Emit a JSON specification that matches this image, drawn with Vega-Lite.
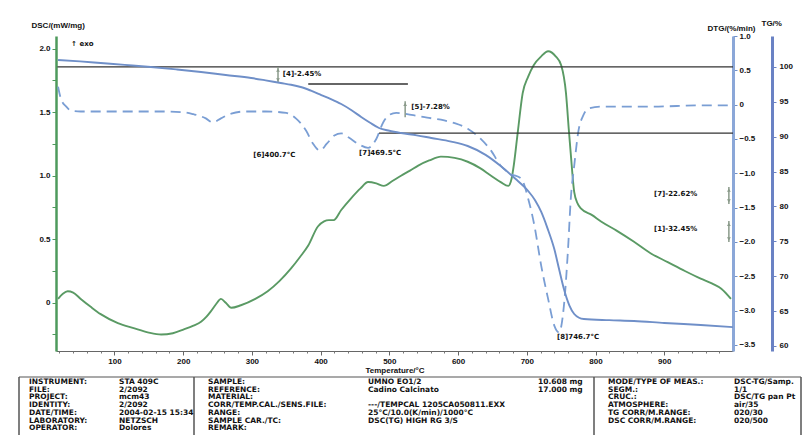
{
  "$schema": "https://vega.github.io/schema/vega-lite/v6.json",
  "padding": {"left": 18, "top": 19, "right": 0, "bottom": 0},
  "background": "white",
  "config": {
    "font": "Liberation Sans",
    "view": {"stroke": null},
    "axis": {"grid": false, "labelFont": "Liberation Sans", "labelFontSize": 8, "labelFontWeight": "bold", "labelColor": "#111", "titleFont": "Liberation Sans", "titleFontSize": 8, "titleFontWeight": "bold", "titleColor": "#111", "labelFlush": false, "labelOverlap": false}
  },
  "datasets": {
    "dsc": [{"T":18,"v":0.03},{"T":25,"v":0.07},{"T":32,"v":0.09},{"T":40,"v":0.08},{"T":51,"v":0.03},{"T":65,"v":-0.03},{"T":80,"v":-0.09},{"T":105,"v":-0.16},{"T":128,"v":-0.2},{"T":150,"v":-0.235},{"T":168,"v":-0.25},{"T":185,"v":-0.24},{"T":201,"v":-0.21},{"T":215,"v":-0.18},{"T":226,"v":-0.15},{"T":234,"v":-0.11},{"T":240,"v":-0.07},{"T":248,"v":-0.01},{"T":255,"v":0.03},{"T":262,"v":0.0},{"T":270,"v":-0.04},{"T":284,"v":-0.02},{"T":305,"v":0.03},{"T":323,"v":0.09},{"T":340,"v":0.17},{"T":357,"v":0.27},{"T":370,"v":0.36},{"T":382,"v":0.45},{"T":396,"v":0.6},{"T":405,"v":0.64},{"T":412,"v":0.65},{"T":419,"v":0.65},{"T":430,"v":0.73},{"T":444,"v":0.82},{"T":458,"v":0.9},{"T":469,"v":0.95},{"T":481,"v":0.94},{"T":492,"v":0.92},{"T":505,"v":0.96},{"T":517,"v":1.0},{"T":530,"v":1.04},{"T":542,"v":1.08},{"T":558,"v":1.12},{"T":575,"v":1.15},{"T":595,"v":1.14},{"T":614,"v":1.11},{"T":632,"v":1.06},{"T":648,"v":1.0},{"T":662,"v":0.95},{"T":673,"v":0.92},{"T":678,"v":0.98},{"T":681,"v":1.08},{"T":687,"v":1.35},{"T":694,"v":1.65},{"T":702,"v":1.78},{"T":710,"v":1.87},{"T":721,"v":1.94},{"T":731,"v":1.98},{"T":742,"v":1.94},{"T":750,"v":1.87},{"T":757,"v":1.65},{"T":761,"v":1.37},{"T":764,"v":1.17},{"T":769,"v":0.87},{"T":774,"v":0.78},{"T":779,"v":0.74},{"T":795,"v":0.69},{"T":808,"v":0.64},{"T":830,"v":0.57},{"T":856,"v":0.48},{"T":880,"v":0.39},{"T":905,"v":0.32},{"T":930,"v":0.25},{"T":953,"v":0.19},{"T":970,"v":0.15},{"T":983,"v":0.11},{"T":997,"v":0.03}],
    "dtg": [{"T":18,"v":0.26},{"T":22,"v":0.09},{"T":30,"v":-0.03},{"T":37,"v":-0.09},{"T":51,"v":-0.1},{"T":110,"v":-0.1},{"T":168,"v":-0.1},{"T":200,"v":-0.11},{"T":215,"v":-0.14},{"T":233,"v":-0.2},{"T":243,"v":-0.26},{"T":255,"v":-0.2},{"T":270,"v":-0.13},{"T":290,"v":-0.1},{"T":320,"v":-0.1},{"T":350,"v":-0.12},{"T":364,"v":-0.2},{"T":379,"v":-0.38},{"T":389,"v":-0.57},{"T":399,"v":-0.67},{"T":409,"v":-0.57},{"T":420,"v":-0.45},{"T":430,"v":-0.42},{"T":441,"v":-0.48},{"T":456,"v":-0.58},{"T":469,"v":-0.63},{"T":481,"v":-0.5},{"T":491,"v":-0.26},{"T":500,"v":-0.15},{"T":510,"v":-0.12},{"T":532,"v":-0.15},{"T":555,"v":-0.19},{"T":575,"v":-0.22},{"T":595,"v":-0.27},{"T":614,"v":-0.35},{"T":633,"v":-0.5},{"T":648,"v":-0.67},{"T":662,"v":-0.89},{"T":677,"v":-1.01},{"T":692,"v":-1.08},{"T":702,"v":-1.37},{"T":711,"v":-1.76},{"T":721,"v":-2.35},{"T":731,"v":-2.83},{"T":740,"v":-3.22},{"T":747,"v":-3.32},{"T":754,"v":-2.93},{"T":760,"v":-2.1},{"T":764,"v":-1.37},{"T":769,"v":-0.89},{"T":775,"v":-0.39},{"T":782,"v":-0.16},{"T":789,"v":-0.06},{"T":808,"v":-0.03},{"T":881,"v":-0.03},{"T":954,"v":-0.01},{"T":993,"v":-0.01}],
    "tg": [{"T":18,"v":101.0},{"T":50,"v":100.8},{"T":80,"v":100.57},{"T":115,"v":100.3},{"T":153,"v":100.0},{"T":190,"v":99.65},{"T":226,"v":99.28},{"T":262,"v":98.85},{"T":299,"v":98.42},{"T":320,"v":98.08},{"T":342,"v":97.7},{"T":357,"v":97.45},{"T":371,"v":97.13},{"T":386,"v":96.6},{"T":401,"v":95.98},{"T":415,"v":95.4},{"T":430,"v":94.69},{"T":445,"v":93.8},{"T":459,"v":92.83},{"T":472,"v":92.0},{"T":485,"v":91.25},{"T":500,"v":90.85},{"T":517,"v":90.53},{"T":540,"v":90.2},{"T":561,"v":89.82},{"T":590,"v":89.3},{"T":614,"v":88.67},{"T":640,"v":87.4},{"T":662,"v":85.8},{"T":683,"v":84.0},{"T":702,"v":82.22},{"T":712,"v":80.9},{"T":721,"v":79.21},{"T":730,"v":76.9},{"T":740,"v":73.9},{"T":747,"v":71.0},{"T":754,"v":68.17},{"T":762,"v":65.8},{"T":769,"v":64.58},{"T":776,"v":64.05},{"T":783,"v":63.87},{"T":820,"v":63.7},{"T":856,"v":63.58},{"T":900,"v":63.3},{"T":953,"v":63.0},{"T":1000,"v":62.7}],
    "tgRules": [{"T":17,"T2":1000,"v":100},{"T":382,"T2":527,"v":97.56},{"T":485,"T2":1000,"v":90.53}],
    "tgArrows": [{"T":338,"v":100,"v2":97.7},{"T":523,"v":95.1,"v2":92.8},{"T":994,"v":82.8,"v2":80.35},{"T":994,"v":77.9,"v2":74.9}],
    "tgHeads": [{"T":338,"v":99.55,"s":"up"},{"T":338,"v":98.15,"s":"down"},{"T":523,"v":94.65,"s":"up"},{"T":994,"v":82.35,"s":"up"},{"T":994,"v":80.8,"s":"down"},{"T":994,"v":77.45,"s":"up"},{"T":994,"v":75.35,"s":"down"}],
    "tgLabels": [{"T":345,"v":98.99,"t":"[4]-2.45%"},{"T":532,"v":94.26,"t":"[5]-7.28%"},{"T":885,"v":81.79,"t":"[7]-22.62%"},{"T":885,"v":76.77,"t":"[1]-32.45%"}],
    "dtgLabels": [{"T":302,"v":-0.74,"t":"[6]400.7°C"},{"T":456,"v":-0.71,"t":"[7]469.5°C"},{"T":744,"v":-3.38,"t":"[8]746.7°C"}],
    "dscLabels": [{"T":37,"v":2.04,"t":"↑ exo"}],
    "info": [
      {"r":1,"c":0,"t":"INSTRUMENT:"},{"r":1,"c":1,"t":"STA 409C"},
      {"r":2,"c":0,"t":"FILE:"},{"r":2,"c":1,"t":"2/2092"},
      {"r":3,"c":0,"t":"PROJECT:"},{"r":3,"c":1,"t":"mcm43"},
      {"r":4,"c":0,"t":"IDENTITY:"},{"r":4,"c":1,"t":"2/2092"},
      {"r":5,"c":0,"t":"DATE/TIME:"},{"r":5,"c":1,"t":"2004-02-15 15:34"},
      {"r":6,"c":0,"t":"LABORATORY:"},{"r":6,"c":1,"t":"NETZSCH"},
      {"r":7,"c":0,"t":"OPERATOR:"},{"r":7,"c":1,"t":"Dolores"},
      {"r":1,"c":3,"t":"SAMPLE:"},{"r":1,"c":4,"t":"UMNO EO1/2"},{"r":1,"c":5,"t":"10.608 mg"},
      {"r":2,"c":3,"t":"REFERENCE:"},{"r":2,"c":4,"t":"Cadino Calcinato"},{"r":2,"c":5,"t":"17.000 mg"},
      {"r":3,"c":3,"t":"MATERIAL:"},
      {"r":4,"c":3,"t":"CORR/TEMP.CAL./SENS.FILE:"},{"r":4,"c":4,"t":"---/TEMPCAL 1205CA050811.EXX"},
      {"r":5,"c":3,"t":"RANGE:"},{"r":5,"c":4,"t":"25°C/10.0(K/min)/1000°C"},
      {"r":6,"c":3,"t":"SAMPLE CAR./TC:"},{"r":6,"c":4,"t":"DSC(TG) HIGH RG 3/S"},
      {"r":7,"c":3,"t":"REMARK:"},
      {"r":1,"c":7,"t":"MODE/TYPE OF MEAS.:"},{"r":1,"c":8,"t":"DSC-TG/Samp."},
      {"r":2,"c":7,"t":"SEGM.:"},{"r":2,"c":8,"t":"1/1"},
      {"r":3,"c":7,"t":"CRUC.:"},{"r":3,"c":8,"t":"DSC/TG pan Pt"},
      {"r":4,"c":7,"t":"ATMOSPHERE:"},{"r":4,"c":8,"t":"air/35"},
      {"r":5,"c":7,"t":"TG CORR/M.RANGE:"},{"r":5,"c":8,"t":"020/30"},
      {"r":6,"c":7,"t":"DSC CORR/M.RANGE:"},{"r":6,"c":8,"t":"020/500"}
    ],
    "vlines": [{"c":-1},{"c":2},{"c":6},{"c":9}],
    "hlines": [{"c":-1,"c2":9,"r":0.35}]
  },
  "vconcat": [
    {
      "width": 677,
      "height": 315,
      "resolve": {"scale": {"y": "independent"}, "axis": {"x": "independent", "y": "independent"}},
      "layer": [
        {
          "encoding": {
            "x": {"field": "T", "type": "quantitative", "scale": {"domain": [15, 1000], "nice": false, "zero": false},
              "axis": {"orient": "bottom", "values": [100,200,300,400,500,600,700,800,900], "format": "d", "domainColor": "#666", "domainWidth": 1.2, "tickColor": "#666", "tickSize": 4, "labelPadding": 2, "title": "Temperature/°C", "titlePadding": 1}},
            "y": {"field": "v", "type": "quantitative", "scale": {"domain": [-0.38, 2.1], "nice": false, "zero": false},
              "axis": {"orient": "left", "values": [-0.25,0,0.25,0.5,0.75,1,1.25,1.5,1.75,2], "labelExpr": "datum.value == 0 ? '0' : (abs(datum.value*2 - round(datum.value*2)) < 0.001 ? format(datum.value, '.1f') : '')", "domainColor": "#4e9a5c", "domainWidth": 2.5, "tickColor": "#4e9a5c", "tickSize": 4, "labelPadding": 2, "title": "DSC/(mW/mg)", "titleAngle": 0, "titleAlign": "left", "titleBaseline": "alphabetic", "titleX": -25, "titleY": -9}}
          },
          "layer": [
            {"data": {"name": "dsc"}, "mark": {"type": "line", "color": "#5a9a64", "strokeWidth": 1.9, "interpolate": "monotone"}},
            {"data": {"name": "dscLabels"}, "mark": {"type": "text", "align": "left", "baseline": "middle", "font": "DejaVu Sans", "fontSize": 7, "fontWeight": "bold", "color": "#111"}, "encoding": {"text": {"field": "t"}}}
          ]
        },
        {
          "encoding": {
            "x": {"field": "T", "type": "quantitative", "scale": {"domain": [15, 1000], "nice": false, "zero": false}, "axis": null},
            "y": {"field": "v", "type": "quantitative", "scale": {"domain": [-3.59, 1.0], "nice": false, "zero": false},
              "axis": {"orient": "right", "values": [-3.5,-3,-2.5,-2,-1.5,-1,-0.5,0,0.5,1], "labelExpr": "datum.value == 0 ? '0' : format(datum.value, '.1f')", "domainColor": "#8ba7d8", "domainWidth": 3, "tickColor": "#6f8fc8", "tickSize": 4, "labelPadding": 2, "title": "DTG/(%/min)", "titleAngle": 0, "titleAlign": "right", "titleBaseline": "alphabetic", "titleX": 22, "titleY": -6}}
          },
          "layer": [
            {"data": {"name": "dtg"}, "mark": {"type": "line", "color": "#7a9ed4", "strokeWidth": 1.8, "strokeDash": [10, 6], "interpolate": "monotone"}},
            {"data": {"name": "dtgLabels"}, "mark": {"type": "text", "align": "left", "baseline": "middle", "font": "DejaVu Sans", "fontSize": 7, "fontWeight": "bold", "color": "#111"}, "encoding": {"text": {"field": "t"}}}
          ]
        },
        {
          "encoding": {
            "x": {"field": "T", "type": "quantitative", "scale": {"domain": [15, 1000], "nice": false, "zero": false},
              "axis": {"orient": "bottom", "values": [20,40,60,80,120,140,160,180,220,240,260,280,320,340,360,380,420,440,460,480,520,540,560,580,620,640,660,680,720,740,760,780,820,840,860,880,920,940,960,980], "labels": false, "domain": false, "tickSize": 2, "tickColor": "#777", "title": null}},
            "y": {"field": "v", "type": "quantitative", "scale": {"domain": [59.28, 104.44], "nice": false, "zero": false},
              "axis": {"orient": "right", "offset": 39, "values": [60,65,70,75,80,85,90,95,100], "domainColor": "#6a82c4", "domainWidth": 3, "tickColor": "#6a82c4", "tickSize": 4, "labelPadding": 3, "title": "TG/%", "titleAngle": 0, "titleAlign": "left", "titleBaseline": "alphabetic", "titleX": -11, "titleY": -11}}
          },
          "layer": [
            {"data": {"name": "tgRules"}, "mark": {"type": "rule", "color": "#333", "strokeWidth": 1.3}, "encoding": {"x2": {"field": "T2"}}},
            {"data": {"name": "tgArrows"}, "mark": {"type": "rule", "color": "#8a9a8a", "strokeWidth": 1.5}, "encoding": {"y2": {"field": "v2"}}},
            {"data": {"name": "tgHeads"}, "mark": {"type": "point", "filled": true, "color": "#8a9a8a", "size": 14, "opacity": 1}, "encoding": {"shape": {"field": "s", "type": "nominal", "scale": {"domain": ["up", "down"], "range": ["triangle-up", "triangle-down"]}, "legend": null}}},
            {"data": {"name": "tg"}, "mark": {"type": "line", "color": "#6f8fc8", "strokeWidth": 1.9, "interpolate": "monotone"}},
            {"data": {"name": "tgLabels"}, "mark": {"type": "text", "align": "left", "baseline": "middle", "font": "DejaVu Sans", "fontSize": 7, "fontWeight": "bold", "color": "#111"}, "encoding": {"text": {"field": "t"}}}
          ]
        }
      ]
    },
    {
      "width": 745,
      "height": 58,
      "encoding": {
        "x": {"field": "c", "type": "quantitative", "scale": {"domain": [-1,0,1,2,3,4,5,6,7,8,9], "range": [-37,-27,63,138,152,312,482,538,552,678,745], "nice": false, "zero": false}, "axis": null}
      },
      "layer": [
        {"data": {"name": "vlines"}, "mark": {"type": "rule", "color": "#555", "strokeWidth": 1.5}},
        {"data": {"name": "hlines"}, "mark": {"type": "rule", "color": "#555", "strokeWidth": 1.2},
          "encoding": {
            "x2": {"field": "c2"},
            "y": {"field": "r", "type": "quantitative", "scale": {"domain": [0.35, 7.88], "reverse": true, "nice": false, "zero": false}, "axis": null}
          }},
        {"data": {"name": "info"}, "mark": {"type": "text", "align": "left", "baseline": "middle", "font": "DejaVu Sans", "fontSize": 7.5, "fontWeight": "bold", "color": "#111"},
          "encoding": {
            "y": {"field": "r", "type": "quantitative", "scale": {"domain": [0.35, 7.88], "reverse": true, "nice": false, "zero": false}, "axis": null},
            "text": {"field": "t"}
          }}
      ]
    }
  ],
  "spacing": 2
}
